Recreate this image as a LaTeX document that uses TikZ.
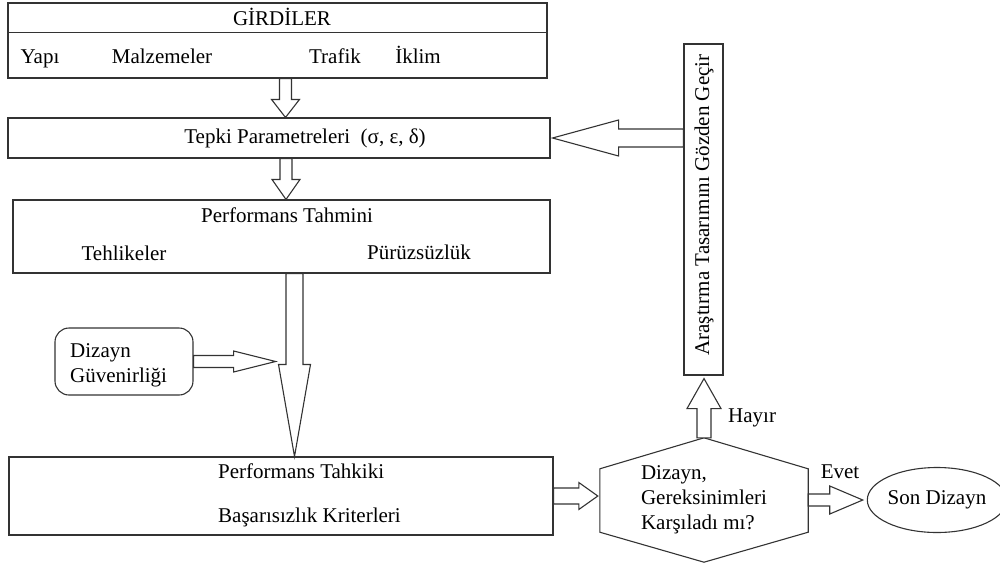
\documentclass[tikz,border=0pt]{standalone}
\usepackage{fontspec}
\setmainfont{Liberation Serif}
\usetikzlibrary{calc,shapes.geometric}

\tikzset{
  line/.style={draw=black!80, line width=1.1pt},
  box/.style={line, rectangle, inner sep=0pt},
  lbl/.style={inner sep=0pt, text height=14pt, text depth=4pt},
  blk/.style={line, fill=white, line join=miter},
  % hollow block arrow: shaft half width, head half width, head length
  blockto/.style n args={3}{to path={
    ($(\tikztotarget)!#3!(\tikztostart)$) coordinate (bt-base)
    ($(\tikztostart)!#1!90:(\tikztotarget)$)
    -- ($(bt-base)!#1!90:(\tikztotarget)$)
    -- ($(bt-base)!#2!90:(\tikztotarget)$)
    -- (\tikztotarget)
    -- ($(bt-base)!#2!-90:(\tikztotarget)$)
    -- ($(bt-base)!#1!-90:(\tikztotarget)$)
    -- ($(\tikztostart)!#1!-90:(\tikztotarget)$)
    -- cycle}},
}

\begin{document}
\begin{tikzpicture}[x=1pt, y=-1pt, font=\fontsize{21}{25}\selectfont]
\useasboundingbox (0,0) rectangle (1000,568);

% inputs
\node[box, minimum width=539pt, minimum height=75pt] (girdi) at (277.5,40.5) {};
\draw[line] ($(girdi.north west)+(0,30)$) -- ($(girdi.north east)+(0,30)$);
\node[lbl] (girdiT) at (282,20) {GİRDİLER};
\node[lbl] (yapi) at (40,58) {Yapı};
\node[lbl] (malz) at (162,58) {Malzemeler};
\node[lbl] (trafik) at (335,58) {Trafik};
\node[lbl] (iklim) at (418,58) {İklim};

% response parameters
\node[box, minimum width=542pt, minimum height=40pt] (tepki) at (279,138) {};
\node[lbl] (tepkiT) at (305,138) {Tepki Parametreleri\ \ (σ, ε, δ)};

% performance prediction
\node[box, minimum width=537pt, minimum height=73pt] (tahmin) at (281.5,236.5) {};
\node[lbl] (tahminT) at (287,217) {Performans Tahmini};
\node[lbl] (tehlike) at (124,255) {Tehlikeler};
\node[lbl] (puruz) at (419,254) {Pürüzsüzlük};

% design reliability
\node[box, rounded corners=14pt, minimum width=138pt, minimum height=67pt] (dizgv) at (124,361.5) {};
\node[align=left, anchor=west, inner sep=0pt] (dizgvT) at (70,365) {Dizayn\\Güvenirliği};

% performance verification
\node[box, minimum width=544pt, minimum height=78pt] (tahkik) at (281,496) {};
\node[lbl, anchor=west] (tahkikT) at (218,473) {Performans Tahkiki};
\node[lbl, anchor=west] (kriter) at (218,517) {Başarısızlık Kriterleri};

% decision
\node[align=left, inner sep=0pt, minimum width=208pt, minimum height=124pt] (hexbox) at (704,500)
  {Dizayn,\\Gereksinimleri\\Karşıladı mı?};
\draw[line, line join=miter] (hexbox.north) -- ($(hexbox.north east)+(0,31)$)
  -- ($(hexbox.south east)+(0,-30)$) -- (hexbox.south)
  -- ($(hexbox.south west)+(0,-30)$) -- ($(hexbox.north west)+(0,31)$) -- cycle;

% final design
\node[line, ellipse, minimum width=118pt, minimum height=65pt, inner sep=0pt] (son) at (937,500) {Son Dizayn};
\node[lbl] (evet) at (840,473) {Evet};

% revise
\node[box, minimum width=39pt, minimum height=331pt] (review) at (703.5,209.5) {};
\node[lbl, rotate=90] (reviewT) at (704,205) {Araştırma Tasarımını Gözden Geçir};
\node[lbl, anchor=west] (hayir) at (728,417) {Hayır};

% connectors
\coordinate (a1s) at ($(girdi.south)+(8,0)$);
\coordinate (a1e) at (a1s |- tepki.north);
\draw[blk] (a1s) to[blockto={6pt}{14pt}{18pt}] (a1e);

\coordinate (a2s) at ($(tepki.south)+(7,0)$);
\coordinate (a2e) at (a2s |- tahmin.north);
\draw[blk] (a2s) to[blockto={6pt}{14pt}{20pt}] (a2e);

\coordinate (b1s) at ($(tahmin.south)+(13,0)$);
\coordinate (b1e) at (b1s |- tahkik.north);
\draw[blk] (b1s) to[blockto={8.5pt}{16pt}{92pt}] (b1e);

\coordinate (d1s) at (dizgv.east);
\coordinate (d1e) at ($(d1s)+(82,0)$);
\draw[blk] (d1s) to[blockto={6pt}{10.5pt}{42pt}] (d1e);

\coordinate (k1s) at (tahkik.east);
\coordinate (k1e) at ($(hexbox.west |- tahkik.east)+(-2,0)$);
\draw[blk] (k1s) to[blockto={8pt}{13.5pt}{19pt}] (k1e);

\coordinate (e1s) at (hexbox.east);
\coordinate (e1e) at ($(son.west)+(-4,0)$);
\draw[blk] (e1s) to[blockto={6pt}{14pt}{33pt}] (e1e);

\coordinate (h1s) at (hexbox.north);
\coordinate (h1e) at ($(h1s |- review.south)+(0,3)$);
\draw[blk] (h1s) to[blockto={7pt}{17pt}{30pt}] (h1e);

\coordinate (r1s) at (review.west |- tepki.east);
\coordinate (r1e) at ($(tepki.east)+(2,0)$);
\draw[blk] (r1s) to[blockto={9pt}{18pt}{66pt}] (r1e);
\end{tikzpicture}
\end{document}
